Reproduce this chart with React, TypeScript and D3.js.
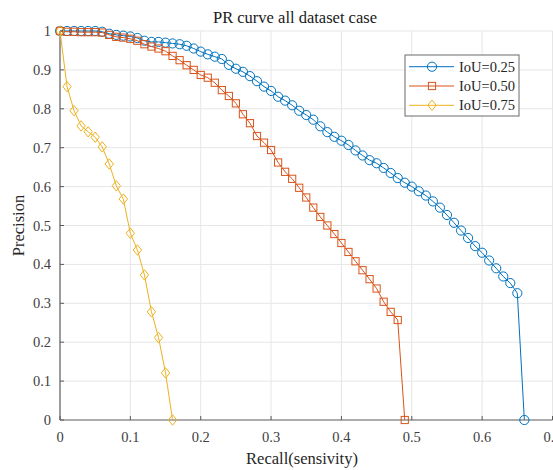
import * as d3 from 'd3'

const W = 553
const H = 470
const M = { left: 60, right: 552.5, top: 31, bottom: 420 }
const FONT = '"Liberation Serif", "Times New Roman", serif'

const X_TICKS = [0, 0.1, 0.2, 0.3, 0.4, 0.5, 0.6, 0.7]
const Y_TICKS = [0, 0.1, 0.2, 0.3, 0.4, 0.5, 0.6, 0.7, 0.8, 0.9, 1]

// IoU = 0.25
const RECALL_25 = [
  0, 0.01, 0.02, 0.03, 0.04, 0.05, 0.06, 0.07, 0.08, 0.09,
  0.1, 0.11, 0.12, 0.13, 0.14, 0.15, 0.16, 0.17, 0.18, 0.19,
  0.2, 0.21, 0.22, 0.23, 0.24, 0.25, 0.26, 0.27, 0.28, 0.29,
  0.3, 0.31, 0.32, 0.33, 0.34, 0.35, 0.36, 0.37, 0.38, 0.39,
  0.4, 0.41, 0.42, 0.43, 0.44, 0.45, 0.46, 0.47, 0.48, 0.49,
  0.5, 0.51, 0.52, 0.53, 0.54, 0.55, 0.56, 0.57, 0.58, 0.59,
  0.6, 0.61, 0.62, 0.63, 0.64, 0.65, 0.66,
]
const PREC_25 = [
  1, 1, 1, 1, 1, 1, 0.998, 0.993, 0.99, 0.988,
  0.986, 0.982, 0.975, 0.972, 0.972, 0.97, 0.968, 0.966, 0.962, 0.955,
  0.947, 0.94, 0.934, 0.928, 0.913, 0.903, 0.895, 0.884, 0.871, 0.857,
  0.846, 0.831, 0.821, 0.809, 0.795, 0.784, 0.772, 0.755, 0.74, 0.728,
  0.718, 0.707, 0.693, 0.68, 0.668, 0.66, 0.648, 0.635, 0.622, 0.61,
  0.6, 0.588, 0.577, 0.562, 0.546, 0.527, 0.507, 0.487, 0.468, 0.447,
  0.43, 0.41, 0.39, 0.369, 0.352, 0.326, 0,
]

// IoU = 0.50
const RECALL_50 = [
  0, 0.01, 0.02, 0.03, 0.04, 0.05, 0.06, 0.07, 0.08, 0.09,
  0.1, 0.11, 0.12, 0.13, 0.14, 0.15, 0.16, 0.17, 0.18, 0.19,
  0.2, 0.21, 0.22, 0.23, 0.24, 0.25, 0.26, 0.27, 0.28, 0.29,
  0.3, 0.31, 0.32, 0.33, 0.34, 0.35, 0.36, 0.37, 0.38, 0.39,
  0.4, 0.41, 0.42, 0.43, 0.44, 0.45, 0.46, 0.47, 0.48, 0.49,
]
const PREC_50 = [
  1, 0.998, 0.998, 0.997, 0.997, 0.997, 0.996, 0.99, 0.985, 0.983,
  0.98, 0.975, 0.966, 0.96, 0.955, 0.948, 0.936, 0.925, 0.912, 0.9,
  0.887, 0.88, 0.867, 0.848, 0.833, 0.814, 0.786, 0.763, 0.73, 0.713,
  0.694, 0.662, 0.638, 0.62, 0.597, 0.572, 0.546, 0.522, 0.5, 0.478,
  0.455, 0.432, 0.408, 0.385, 0.362, 0.338, 0.304, 0.278, 0.257, 0,
]

// IoU = 0.75
const RECALL_75 = [
  0, 0.01, 0.02, 0.03, 0.04, 0.05, 0.06, 0.07, 0.08,
  0.09, 0.1, 0.11, 0.12, 0.13, 0.14, 0.15, 0.16,
]
const PREC_75 = [
  1, 0.857, 0.795, 0.756, 0.741, 0.727, 0.702, 0.658, 0.602,
  0.568, 0.48, 0.437, 0.373, 0.278, 0.212, 0.121, 0,
]

const SERIES = [
  { name: 'IoU=0.25', color: '#0072BD', marker: 'circle', xs: RECALL_25, ys: PREC_25 },
  { name: 'IoU=0.50', color: '#D95319', marker: 'square', xs: RECALL_50, ys: PREC_50 },
  { name: 'IoU=0.75', color: '#EDB120', marker: 'diamond', xs: RECALL_75, ys: PREC_75 },
]

function Marker({ type, x, y, color }: { type: string; x: number; y: number; color: string }) {
  if (type === 'circle') {
    return <circle cx={x} cy={y} r={4.6} fill="none" stroke={color} strokeWidth={1} />
  }
  if (type === 'square') {
    return <rect x={x - 3.6} y={y - 3.6} width={7.2} height={7.2} fill="none" stroke={color} strokeWidth={1} />
  }
  return (
    <path
      d={`M${x},${y - 5.2}L${x + 4.2},${y}L${x},${y + 5.2}L${x - 4.2},${y}Z`}
      fill="none" stroke={color} strokeWidth={1}
    />
  )
}

export default function App() {
  const x = d3.scaleLinear().domain([0, 0.7]).range([M.left, M.right])
  const y = d3.scaleLinear().domain([0, 1]).range([M.bottom, M.top])
  const line = d3.line<[number, number]>()

  const legend = { x: 405, y: 55, w: 114, h: 61 }

  return (
    <svg
      width={W} height={H}
      style={{ position: 'absolute', left: 0, top: 0, background: '#fff' }}
      fontFamily={FONT}
    >
      {/* grid */}
      {X_TICKS.filter(t => t > 0).map(t => (
        <line key={'gx' + t} x1={x(t)} x2={x(t)} y1={M.top} y2={M.bottom} stroke="#e6e6e6" strokeWidth={1} />
      ))}
      {Y_TICKS.filter(t => t > 0).map(t => (
        <line key={'gy' + t} x1={M.left} x2={M.right} y1={y(t)} y2={y(t)} stroke="#e6e6e6" strokeWidth={1} />
      ))}

      {/* axes */}
      <line x1={M.left} x2={M.left} y1={M.top} y2={M.bottom} stroke="#5a5a5a" strokeWidth={1.2} />
      <line x1={M.left} x2={M.right} y1={M.bottom} y2={M.bottom} stroke="#5a5a5a" strokeWidth={1.2} />
      {X_TICKS.map(t => (
        <g key={'xt' + t}>
          <line x1={x(t)} x2={x(t)} y1={M.bottom} y2={M.bottom - 4} stroke="#5a5a5a" />
          <text x={x(t)} y={442} textAnchor="middle" fontSize={14.5} fill="#404040">{String(t)}</text>
        </g>
      ))}
      {Y_TICKS.map(t => (
        <g key={'yt' + t}>
          <line x1={M.left} x2={M.left + 4} y1={y(t)} y2={y(t)} stroke="#5a5a5a" />
          <text x={51} y={y(t)} dy="0.35em" textAnchor="end" fontSize={14.5} fill="#404040">{String(t)}</text>
        </g>
      ))}

      {/* series */}
      {SERIES.map(s => {
        const pts: [number, number][] = s.xs.map((r, i) => [x(r), y(s.ys[i])])
        return (
          <g key={s.name}>
            <path d={line(pts) || ''} fill="none" stroke={s.color} strokeWidth={1} />
            {pts.map((p, i) => (
              <Marker key={i} type={s.marker} x={p[0]} y={p[1]} color={s.color} />
            ))}
          </g>
        )
      })}

      {/* legend */}
      <rect x={legend.x} y={legend.y} width={legend.w} height={legend.h} fill="#fff" stroke="#6a6a6a" strokeWidth={1} />
      {SERIES.map((s, i) => {
        const cy = 66.7 + i * 19.3
        return (
          <g key={'lg' + s.name}>
            <line x1={409} x2={454} y1={cy} y2={cy} stroke={s.color} strokeWidth={1} />
            <Marker type={s.marker} x={432} y={cy} color={s.color} />
            <text x={459} y={cy} dy="0.35em" fontSize={14.5} fill="#262626">{s.name}</text>
          </g>
        )
      })}

      {/* titles */}
      <text x={295} y={23} textAnchor="middle" fontSize={16.5} fill="#1a1a1a">PR curve all dataset case</text>
      <text x={302} y={464} textAnchor="middle" fontSize={16.5} fill="#262626">Recall(sensivity)</text>
      <text transform={`translate(24,${(M.top + M.bottom) / 2}) rotate(-90)`} textAnchor="middle" fontSize={16.5} fill="#262626">Precision</text>
    </svg>
  )
}
